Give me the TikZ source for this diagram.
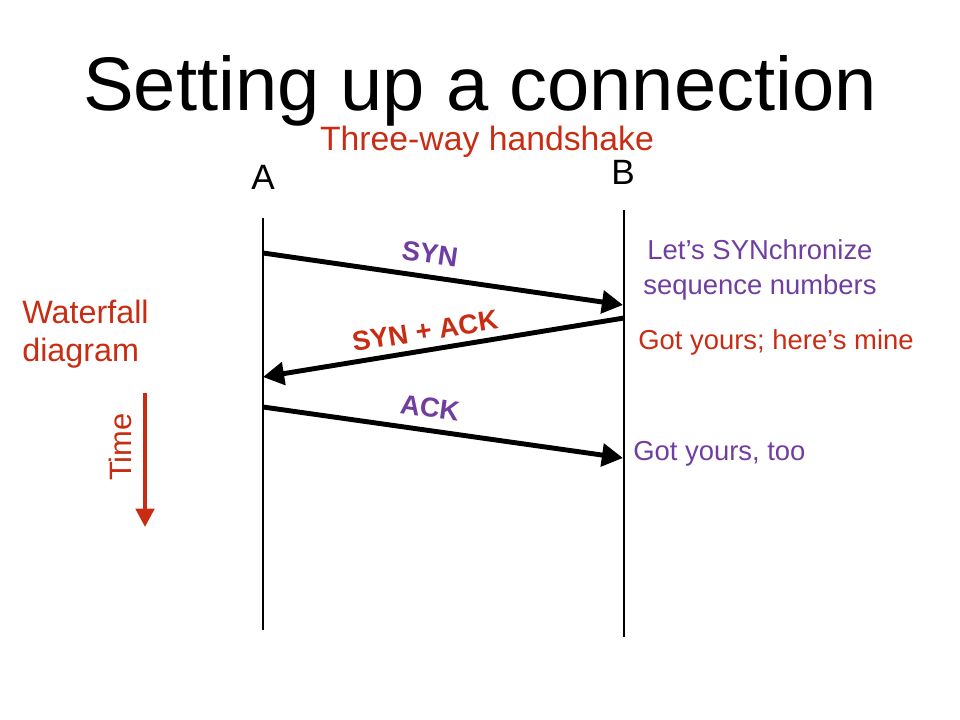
\documentclass[tikz,border=0pt]{standalone}
\usepackage{fontspec}
\setmainfont{Liberation Sans}
\usetikzlibrary{arrows.meta,positioning}
\definecolor{hsred}{RGB}{200,45,20}
\definecolor{hspurple}{RGB}{112,62,160}
\newcommand{\hsfont}[1]{\fontsize{#1}{#1}\selectfont}

\begin{document}
\begin{tikzpicture}[x=0.025cm, y=-0.025cm,
	lifeline/.style={line width=1pt},
	msg/.style={line width=3.5pt, -{Triangle[length=15pt,width=16pt]}},
	msglabel/.style={font=\hsfont{19.5}\bfseries, inner sep=0pt},
	note/.style={font=\hsfont{19.5}, inner sep=0pt, anchor=base}]
	\useasboundingbox (0,0) rectangle (960,720);

	\node(title) [anchor=base, inner sep=0pt, font=\hsfont{54}] at (480,111) {Setting up a connection};
	\node(sub) [anchor=base, inner sep=0pt, font=\hsfont{24}, text=hsred] at (487,151) {Three-way handshake};
	\node(A) [anchor=base, inner sep=0pt, font=\hsfont{25}] at (263,190) {A};
	\node(B) [anchor=base, inner sep=0pt, font=\hsfont{25}] at (623,185) {B};

	% lifelines
	\coordinate(Atop) at (263,218);
	\coordinate(Abot) at (263,630);
	\coordinate(Btop) at (624,210);
	\coordinate(Bbot) at (624,637);
	\draw[lifeline] (Atop) -- (Abot);
	\draw[lifeline] (Btop) -- (Bbot);

	% messages
	\coordinate(syn0) at (263,253);
	\coordinate(syn1) at (623,305);
	\coordinate(synack0) at (624,318);
	\coordinate(synack1) at (263,377);
	\coordinate(ack0) at (263,407);
	\coordinate(ack1) at (623,458);
	\draw[msg] (syn0) -- (syn1);
	\draw[msg] (synack0) -- (synack1);
	\draw[msg] (ack0) -- (ack1);

	\node(synlbl) [msglabel, text=hspurple, rotate=-8] at (430,254) {SYN};
	\node(synacklbl) [msglabel, text=hsred, rotate=9] at (425,331) {SYN + ACK};
	\node(acklbl) [msglabel, text=hspurple, rotate=-8] at (430,408) {ACK};

	% notes on the right
	\node(n1) [note, text=hspurple] at (760,260) {Let’s SYNchronize};
	\node(n2) [note, text=hspurple] at (760,295) {sequence numbers};
	\node(n3) [note, text=hsred, anchor=base west] at (638,350) {Got yours; here’s mine};
	\node(n4) [note, text=hspurple, anchor=base west] at (633,461) {Got yours, too};

	% waterfall and time
	\node(wf1) [note, font=\hsfont{23}, text=hsred, anchor=base west] at (22,324) {Waterfall};
	\node(wf2) [note, font=\hsfont{23}, text=hsred, anchor=base west] at (22,362) {diagram};
	\coordinate(t0) at (145,393);
	\coordinate(t1) at (145,527);
	\draw[line width=2.8pt, hsred, -{Triangle[length=13pt,width=13pt]}] (t0) -- (t1);
	\node(time) [inner sep=0pt, font=\hsfont{22}, text=hsred, rotate=90] at (120,447) {Time};
\end{tikzpicture}
\end{document}
